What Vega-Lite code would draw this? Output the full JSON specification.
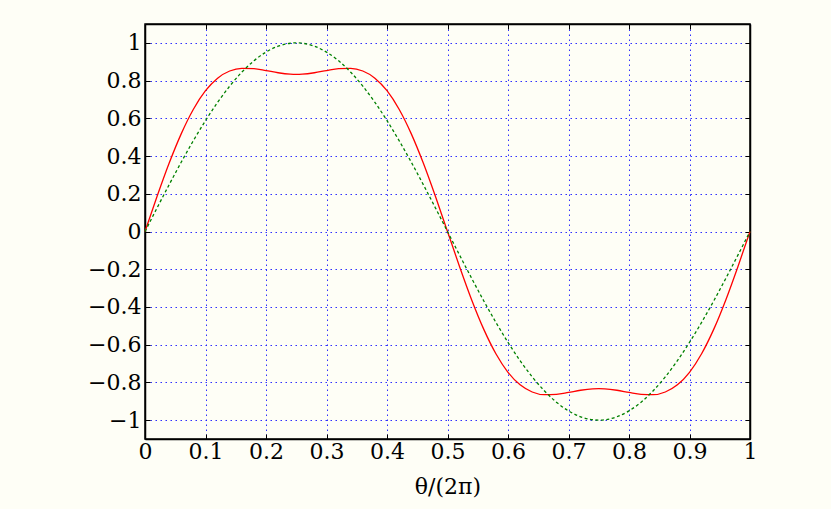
{
  "$schema": "https://vega.github.io/schema/vega-lite/v6.json",
  "autosize": {"type": "none"},
  "padding": {"left": 145, "top": 24, "right": 81, "bottom": 70},
  "width": 605,
  "height": 415,
  "background": "#fefef6",
  "config": {
    "view": {"stroke": "#000000", "strokeWidth": 1.5, "fill": "#fefef6"},
    "axis": {
      "labelFont": "DejaVu Serif",
      "labelFontSize": 22,
      "labelColor": "#000000",
      "titleFont": "DejaVu Serif",
      "titleFontSize": 22,
      "titleFontWeight": "normal",
      "titleColor": "#000000",
      "domainColor": "#000000",
      "domainWidth": 1.5,
      "tickColor": "#000000",
      "tickSize": -5,
      "tickWidth": 1,
      "gridColor": "#1a1aff",
      "gridDash": [1.5, 3.5],
      "gridWidth": 1,
      "gridOpacity": 0.9
    }
  },
  "data": {"values": [
    {"t": 0, "r": 0, "g": 0},
    {"t": 0.02, "r": 0.18668, "g": 0.12533},
    {"t": 0.04, "r": 0.36278, "g": 0.24869},
    {"t": 0.06, "r": 0.51893, "g": 0.36812},
    {"t": 0.08, "r": 0.64809, "g": 0.48175},
    {"t": 0.10, "r": 0.74630, "g": 0.58779},
    {"t": 0.12, "r": 0.81297, "g": 0.68455},
    {"t": 0.14, "r": 0.85080, "g": 0.77051},
    {"t": 0.16, "r": 0.86522, "g": 0.84433},
    {"t": 0.18, "r": 0.86338, "g": 0.90483},
    {"t": 0.20, "r": 0.85309, "g": 0.95106},
    {"t": 0.22, "r": 0.84157, "g": 0.98229},
    {"t": 0.24, "r": 0.83431, "g": 0.99803},
    {"t": 0.25, "r": 0.83333, "g": 1},
    {"t": 0.26, "r": 0.83431, "g": 0.99803},
    {"t": 0.28, "r": 0.84157, "g": 0.98229},
    {"t": 0.30, "r": 0.85309, "g": 0.95106},
    {"t": 0.32, "r": 0.86338, "g": 0.90483},
    {"t": 0.34, "r": 0.86522, "g": 0.84433},
    {"t": 0.36, "r": 0.85080, "g": 0.77051},
    {"t": 0.38, "r": 0.81297, "g": 0.68455},
    {"t": 0.40, "r": 0.74630, "g": 0.58779},
    {"t": 0.42, "r": 0.64809, "g": 0.48175},
    {"t": 0.44, "r": 0.51893, "g": 0.36812},
    {"t": 0.46, "r": 0.36278, "g": 0.24869},
    {"t": 0.48, "r": 0.18668, "g": 0.12533},
    {"t": 0.50, "r": 0, "g": 0},
    {"t": 0.52, "r": -0.18668, "g": -0.12533},
    {"t": 0.54, "r": -0.36278, "g": -0.24869},
    {"t": 0.56, "r": -0.51893, "g": -0.36812},
    {"t": 0.58, "r": -0.64809, "g": -0.48175},
    {"t": 0.60, "r": -0.74630, "g": -0.58779},
    {"t": 0.62, "r": -0.81297, "g": -0.68455},
    {"t": 0.64, "r": -0.85080, "g": -0.77051},
    {"t": 0.66, "r": -0.86522, "g": -0.84433},
    {"t": 0.68, "r": -0.86338, "g": -0.90483},
    {"t": 0.70, "r": -0.85309, "g": -0.95106},
    {"t": 0.72, "r": -0.84157, "g": -0.98229},
    {"t": 0.74, "r": -0.83431, "g": -0.99803},
    {"t": 0.75, "r": -0.83333, "g": -1},
    {"t": 0.76, "r": -0.83431, "g": -0.99803},
    {"t": 0.78, "r": -0.84157, "g": -0.98229},
    {"t": 0.80, "r": -0.85309, "g": -0.95106},
    {"t": 0.82, "r": -0.86338, "g": -0.90483},
    {"t": 0.84, "r": -0.86522, "g": -0.84433},
    {"t": 0.86, "r": -0.85080, "g": -0.77051},
    {"t": 0.88, "r": -0.81297, "g": -0.68455},
    {"t": 0.90, "r": -0.74630, "g": -0.58779},
    {"t": 0.92, "r": -0.64809, "g": -0.48175},
    {"t": 0.94, "r": -0.51893, "g": -0.36812},
    {"t": 0.96, "r": -0.36278, "g": -0.24869},
    {"t": 0.98, "r": -0.18668, "g": -0.12533},
    {"t": 1.00, "r": 0, "g": 0}
  ]},
  "layer": [
    {
      "mark": {"type": "line", "color": "#ff0000", "strokeWidth": 1.3, "interpolate": "monotone"},
      "encoding": {
        "x": {"field": "t", "type": "quantitative", "scale": {"domain": [0, 1], "nice": false},
              "axis": {"orient": "bottom", "values": [0,0.1,0.2,0.3,0.4,0.5,0.6,0.7,0.8,0.9,1], "title": "θ/(2π)", "labelPadding": 7, "titlePadding": 14, "labelFlush": false, "labelOverlap": false,
                       "labelExpr": "format(datum.value, '~g')"}},
        "y": {"field": "r", "type": "quantitative", "scale": {"domain": [-1.1, 1.1], "nice": false, "zero": false},
              "axis": {"orient": "left", "values": [-1,-0.8,-0.6,-0.4,-0.2,0,0.2,0.4,0.6,0.8,1], "title": null, "labelPadding": 9, "labelFlush": false, "labelOverlap": false,
                       "labelExpr": "replace(format(datum.value, '~g'), '-', '−')"}}
      }
    },
    {
      "mark": {"type": "line", "color": "#008000", "strokeWidth": 1.3, "strokeDash": [3, 2.5], "interpolate": "monotone"},
      "encoding": {
        "x": {"field": "t", "type": "quantitative",
              "axis": {"orient": "top", "values": [0,0.1,0.2,0.3,0.4,0.5,0.6,0.7,0.8,0.9,1], "labels": false, "grid": false, "title": null}},
        "y": {"field": "g", "type": "quantitative",
              "axis": {"orient": "right", "values": [-1,-0.8,-0.6,-0.4,-0.2,0,0.2,0.4,0.6,0.8,1], "labels": false, "grid": false, "title": null}}
      }
    }
  ],
  "resolve": {"axis": {"x": "independent", "y": "independent"}}
}
